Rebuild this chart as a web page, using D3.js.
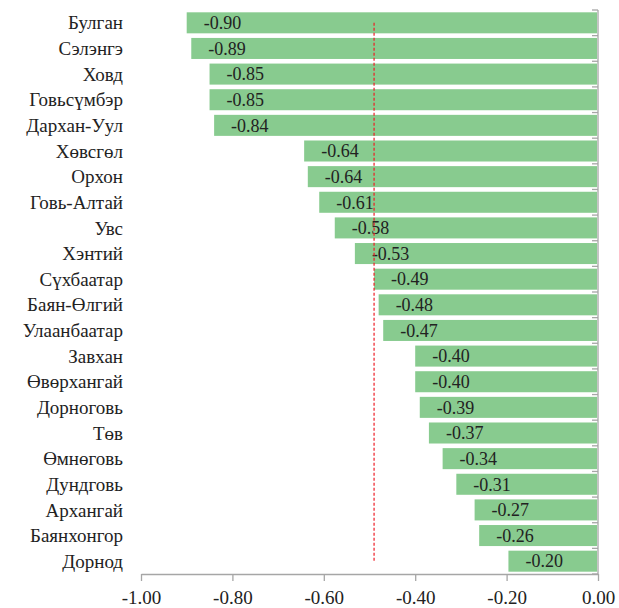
<!DOCTYPE html>
<html><head><meta charset="utf-8">
<script src="https://cdn.jsdelivr.net/npm/d3@7"></script>
<style>body{margin:0;background:#fff} svg text{font-family:"Times New Roman","Liberation Serif",Tinos,"DejaVu Serif","Noto Serif",Times,serif !important;}</style>
</head><body>
<svg id="c" width="619" height="608"></svg>
<script>
const categories = ["Булган","Сэлэнгэ","Ховд","Говьсүмбэр","Дархан-Уул","Хөвсгөл","Орхон","Говь-Алтай","Увс","Хэнтий","Сүхбаатар","Баян-Өлгий","Улаанбаатар","Завхан","Өвөрхангай","Дорноговь","Төв","Өмнөговь","Дундговь","Архангай","Баянхонгор","Дорнод"];
const values = [-0.90,-0.89,-0.85,-0.85,-0.84,-0.643,-0.635,-0.61,-0.576,-0.532,-0.49,-0.48,-0.47,-0.40,-0.40,-0.39,-0.37,-0.34,-0.31,-0.27,-0.26,-0.196];
const xTicks = [-1.0,-0.8,-0.6,-0.4,-0.2,0.0];
const refValue = -0.49;

const svg = d3.select("#c");
const x = d3.scaleLinear().domain([-1,0]).range([141,598]);
const y = d3.scaleBand().domain(categories).range([10,574]).paddingInner(0.18).paddingOuter(0.09);
const step = y.step();

svg.selectAll("rect.bar").data(values).join("rect")
  .attr("x", d => x(d)).attr("y", (d,i) => y(categories[i]))
  .attr("width", d => x(0) - x(d) - 1).attr("height", y.bandwidth())
  .attr("fill", "#88cb8f");

svg.selectAll("text.val").data(values).join("text")
  .attr("x", d => x(d) + 17).attr("y", (d,i) => y(categories[i]) + y.bandwidth()/2)
  .attr("dy", "0.35em").attr("font-size", 18).attr("fill", "#222")
  .text(d => d.toFixed(2));

svg.selectAll("text.cat").data(categories).join("text")
  .attr("x", 123).attr("y", d => y(d) + y.bandwidth()/2)
  .attr("dy", "0.35em").attr("text-anchor", "end").attr("font-size", 19).attr("fill", "#222")
  .text(d => d);

const axisColor = "#a6a6a6";
svg.append("line").attr("x1", x(0)).attr("x2", x(0)).attr("y1", 10).attr("y2", 574)
  .attr("stroke", axisColor).attr("stroke-width", 1.3);
const bounds = d3.range(categories.length + 1).map(i => 10 + i * step);
svg.selectAll("line.yt").data(bounds).join("line")
  .attr("x1", x(0) - 6).attr("x2", x(0)).attr("y1", d => d).attr("y2", d => d)
  .attr("stroke", axisColor).attr("stroke-width", 1.3);

const gx = svg.append("g").attr("transform", "translate(0,574)")
  .call(d3.axisBottom(x).tickValues(xTicks).tickSize(7).tickSizeOuter(0).tickPadding(10));
gx.attr("font-family", null);
gx.select(".domain").attr("stroke", axisColor).attr("stroke-width", 1.3);
gx.selectAll(".tick line").attr("stroke", axisColor).attr("stroke-width", 1.3);
gx.selectAll(".tick text").attr("font-size", 19).attr("fill", "#222")
  .text(d => d === 0 ? "0.00" : d.toFixed(2));

const first = categories[0], last = categories[categories.length-1];
svg.append("line").attr("x1", x(refValue)).attr("x2", x(refValue))
  .attr("y1", y(first) + y.bandwidth()/2).attr("y2", y(last) + y.bandwidth()/2)
  .attr("stroke", "#ee1c25").attr("stroke-width", 1.2).attr("stroke-dasharray", "3,2");
</script>
</body></html>
